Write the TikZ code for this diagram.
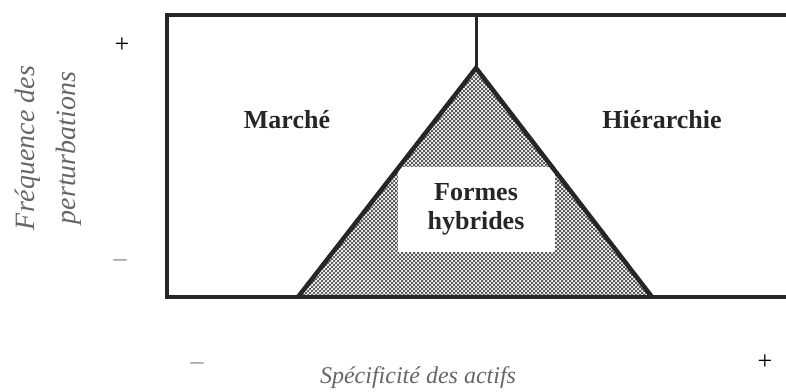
\documentclass[tikz,border=0pt]{standalone}
\usepackage{fontspec}
\setmainfont{Liberation Serif}
\usepackage{tikz}
\usetikzlibrary{patterns}

\pgfdeclarepatternformonly{diamondmesh}{\pgfpoint{-0.5pt}{-0.5pt}}{\pgfpoint{4.5pt}{4.5pt}}{\pgfpoint{4pt}{4pt}}{
    \pgfsetlinewidth{0.7pt}
    \pgfpathmoveto{\pgfpoint{0pt}{0pt}}\pgfpathlineto{\pgfpoint{4pt}{4pt}}
    \pgfpathmoveto{\pgfpoint{0pt}{4pt}}\pgfpathlineto{\pgfpoint{4pt}{0pt}}
    \pgfusepath{stroke}
}

\begin{document}
\begin{tikzpicture}[
        x=1pt, y=-1pt,
        frame/.style={line width=4pt, black!85},
        zone/.style={font=\bfseries\fontsize{26}{29}\selectfont, text=black!85},
        axis/.style={font=\itshape\fontsize{28}{41}\selectfont, text=black!60, align=center},
        sign/.style={font=\fontsize{26}{30}\selectfont, inner sep=0pt}
    ]
        \useasboundingbox (0,0) rectangle (786,391);

        % hybrid zone
        \coordinate (apex) at (476,68);
        \coordinate (baseL) at (298,297);
        \coordinate (baseR) at (652,297);
        \coordinate (topmid) at (476,15);
        \fill[pattern=diamondmesh, pattern color=black!70] (apex) -- (baseL) -- (baseR) -- cycle;
        \node[zone, fill=white, minimum width=157pt, minimum height=85pt, align=center] (hybrid) at (476,209) {Formes\\hybrides};
        \draw[frame, line width=4.5pt] (baseL) -- (apex) -- (baseR);
        \draw[line width=3pt, black!85] (topmid) -- (apex);

        % frame, open to the right
        \draw[frame] (786,15) -- (167,15) -- (167,297) -- (786,297);

        \node[zone] (marche) at (287,120) {Marché};
        \node[zone] (hierarchie) at (662,120) {Hiérarchie};

        % axes
        \node[axis, rotate=90] (freq) at (48,148) {Fréquence des\\perturbations};
        \node[axis, font=\itshape\fontsize{24}{28}\selectfont] (specif) at (418,378) {Spécificité des actifs};
        \node[sign] (plusY) at (122,45) {+};
        \node[sign, text=black!45] (minusY) at (120,263) {–};
        \node[sign, text=black!45] (minusX) at (197,366) {–};
        \node[sign] (plusX) at (765,362) {+};
    \end{tikzpicture}
\end{document}
